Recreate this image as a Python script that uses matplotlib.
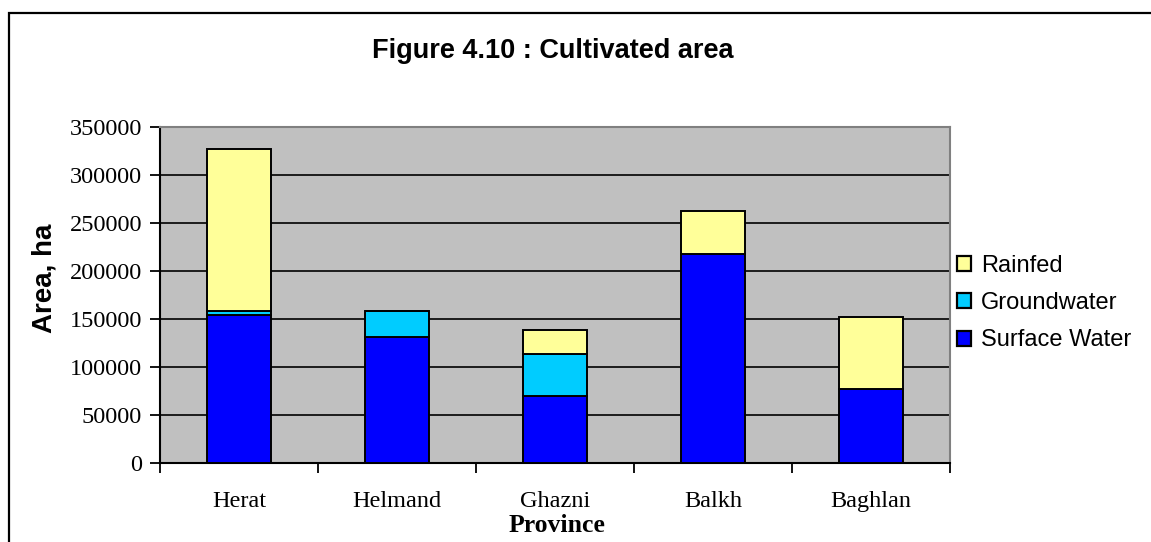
import matplotlib
matplotlib.use("Agg")
import matplotlib.pyplot as plt
from matplotlib.patches import Rectangle
import numpy as np

provinces = ["Herat", "Helmand", "Ghazni", "Balkh", "Baghlan"]
surface_water = [154000, 131000, 70000, 218000, 77000]
groundwater = [4000, 27000, 44000, 0, 0]
rainfed = [169000, 0, 25000, 44000, 75000]
yticks = [0, 50000, 100000, 150000, 200000, 250000, 300000, 350000]

W, H = 1151, 542
fig = plt.figure(figsize=(W / 100, H / 100), dpi=100)
fig.patch.set_facecolor("white")

# outer chart border (extends off right/bottom)
fig.add_artist(Rectangle((9 / W, -0.05), 1.1, 1 - 13 / H + 0.05, transform=fig.transFigure,
                         fill=False, edgecolor="black", linewidth=1.6))

ax = fig.add_axes([160 / W, 79 / H, 790 / W, 336 / H])
ax.set_facecolor("#C0C0C0")

x = np.arange(len(provinces))
sw = np.array(surface_water)
gw = np.array(groundwater)
rf = np.array(rainfed)
kw = dict(width=0.4, edgecolor="black", linewidth=1.4, zorder=3)
b1 = ax.bar(x, sw, color="#0000FF", label="Surface Water", **kw)
b2 = ax.bar(x, gw, bottom=sw, color="#00CCFF", label="Groundwater", **kw)
b3 = ax.bar(x, rf, bottom=sw + gw, color="#FFFF99", label="Rainfed", **kw)

ax.set_xlim(-0.5, len(provinces) - 0.5)
ax.set_ylim(0, 350000)
ax.set_yticks(yticks)
ax.set_yticklabels([str(v) for v in yticks], family="Liberation Serif", fontsize=17.5)
ax.yaxis.grid(True, color="black", linewidth=1.2, zorder=0)
ax.set_axisbelow(True)

ax.set_xticks(x)
ax.set_xticklabels(provinces, family="Liberation Serif", fontsize=17.5)
ax.set_xticks(np.arange(-0.5, len(provinces), 1.0), minor=True)
ax.tick_params(axis="x", which="major", length=0, pad=20)
ax.tick_params(axis="x", which="minor", length=7, width=1.3, direction="out")
ax.tick_params(axis="y", length=7, width=1.3, direction="out", pad=6)

for s in ["top", "right"]:
    ax.spines[s].set_color("#808080")
    ax.spines[s].set_linewidth(1.5)
for s in ["left", "bottom"]:
    ax.spines[s].set_color("black")
    ax.spines[s].set_linewidth(1.5)

fig.text(553 / W, 1 - 51 / H, "Figure 4.10 : Cultivated area", family="Liberation Sans",
         fontweight="bold", fontsize=19.5, ha="center", va="center")
fig.text(557 / W, 1 - 526 / H, "Province", family="Liberation Serif",
         fontweight="bold", fontsize=18.5, ha="center", va="center")
fig.text(45 / W, 1 - 278 / H, "Area, ha", family="Liberation Sans",
         fontweight="bold", fontsize=20, ha="center", va="center", rotation=90)

leg = fig.legend(handles=[b3, b2, b1], labels=["Rainfed", "Groundwater", "Surface Water"],
                 loc="center left", bbox_to_anchor=(957 / W, 1 - 303 / H),
                 frameon=False, prop={"family": "Liberation Sans", "size": 17},
                 handlelength=0.6, handleheight=0.6, handletextpad=0.42,
                 labelspacing=0.65, borderpad=0, borderaxespad=0)
for h in leg.legend_handles:
    h.set_linewidth(1.6)

fig.savefig("out.png", dpi=100)
